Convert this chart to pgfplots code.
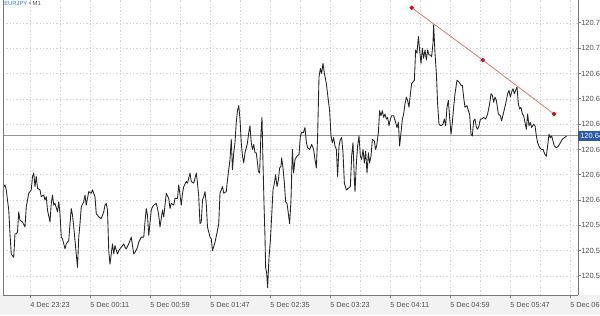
\documentclass[border=0pt]{standalone}
\usepackage{pgfplots}
\pgfplotsset{compat=1.18}
\usepackage{pgfplotstable}
\usepackage{fontspec}
\setmainfont{Liberation Sans}
\definecolor{gridc}{RGB}{212,212,212}
\definecolor{axisc}{RGB}{120,120,120}
\definecolor{labc}{RGB}{80,80,80}
\definecolor{bandc}{RGB}{242,242,242}
\definecolor{pricec}{RGB}{150,150,150}
\definecolor{bluec}{RGB}{40,92,170}
\definecolor{titleblue}{RGB}{60,125,215}
\definecolor{trendc}{RGB}{225,120,110}
\definecolor{dotc}{RGB}{200,20,20}

\pgfplotstableread{
t p
-22 120.612
-21 120.618
-20 120.619
-19 120.616
-17 120.604
-16 120.590
-15 120.578
-14 120.577
-13 120.576
-12 120.590
-11 120.590
-10 120.591
-9 120.603
-8 120.598
-6 120.597
-4 120.594
-3 120.606
-1 120.614
1 120.616
2 120.624
3 120.626
4 120.618
5 120.624
6 120.617
8 120.616
9 120.612
11 120.613
12 120.610
13 120.612
14 120.604
16 120.597
17 120.608
18 120.613
19 120.607
20 120.608
22 120.603
23 120.609
24 120.602
25 120.588
26 120.587
28 120.581
29 120.584
31 120.586
32 120.596
33 120.605
34 120.601
35 120.594
37 120.578
38 120.570
39 120.588
40 120.596
41 120.606
43 120.609
44 120.613
45 120.607
46 120.611
47 120.615
49 120.614
50 120.616
52 120.612
53 120.602
55 120.600
57 120.599
59 120.603
60 120.607
61 120.608
62 120.604
63 120.580
64 120.572
65 120.578
66 120.584
67 120.578
68 120.583
70 120.578
71 120.580
73 120.582
75 120.584
76 120.582
77 120.581
79 120.584
80 120.586
81 120.588
83 120.578
84 120.579
86 120.582
87 120.585
89 120.588
91 120.588
92 120.597
93 120.605
94 120.601
95 120.589
97 120.604
98 120.606
99 120.607
101 120.608
102 120.605
103 120.601
104 120.594
106 120.604
107 120.600
108 120.607
109 120.614
111 120.611
112 120.605
113 120.608
115 120.607
116 120.611
118 120.611
119 120.619
121 120.607
122 120.614
123 120.618
125 120.621
126 120.620
128 120.626
129 120.621
131 120.620
133 120.626
134 120.620
135 120.612
136 120.596
137 120.597
138 120.610
139 120.612
140 120.615
141 120.608
142 120.594
144 120.588
145 120.587
146 120.580
148 120.585
150 120.592
151 120.596
152 120.614
154 120.618
155 120.614
157 120.615
158 120.622
160 120.634
161 120.646
162 120.628
163 120.638
164 120.644
165 120.656
166 120.663
167 120.666
168 120.658
169 120.644
170 120.636
171 120.632
172 120.638
174 120.644
175 120.650
176 120.654
177 120.644
178 120.640
179 120.643
180 120.638
181 120.638
182 120.632
182.7 120.627
183.7 120.626
184.8 120.650
185.6 120.659
186.4 120.632
187.2 120.608
188.0 120.588
188.5 120.570
189.3 120.567
190.1 120.558
191.2 120.576
192.3 120.586
193.3 120.600
194.4 120.616
195.5 120.620
196.5 120.625
197.6 120.618
198.7 120.622
199.7 120.629
200.8 120.630
201.3 120.635
202.4 120.629
203.5 120.620
204.5 120.609
205.6 120.608
206.7 120.602
207.7 120.596
208.8 120.610
209.9 120.640
210.9 120.626
212.0 120.634
213.6 120.636
215.2 120.637
216.3 120.648
217.3 120.650
218.7 120.650
220.0 120.653
221.1 120.644
222.1 120.641
223.7 120.640
225.3 120.643
226.9 120.640
228.0 120.634
229.1 120.629
230.1 120.648
231.2 120.683
232.3 120.688
233.3 120.685
234.4 120.691
235.5 120.685
237.1 120.679
238.7 120.669
239.7 120.663
240.8 120.648
241.9 120.644
242.9 120.647
244.0 120.642
245.1 120.640
246.1 120.624
247.2 120.642
248.3 120.646
249.3 120.647
250.4 120.638
251.5 120.620
253.1 120.616
254.7 120.617
256.3 120.618
257.3 120.636
258.4 120.644
259.5 120.622
260.0 120.615
261.1 120.632
262.1 120.642
263.2 120.648
264.3 120.636
265.3 120.634
266.4 120.640
267.5 120.632
268.5 120.639
269.6 120.626
270.7 120.638
271.7 120.632
272.8 120.636
273.9 120.646
275.5 120.645
276.4 120.640
277.3 120.642
278.7 120.650
279.7 120.663
280.8 120.660
281.9 120.663
282.9 120.659
284.0 120.661
285.1 120.658
286.1 120.659
287.2 120.654
288.3 120.658
289.3 120.660
290.9 120.660
292.5 120.656
293.6 120.653
294.7 120.656
295.7 120.642
296.8 120.650
297.9 120.658
298.9 120.661
300.0 120.667
301.1 120.671
302.1 120.669
303.2 120.665
304.3 120.673
305.3 120.679
306.4 120.680
307.5 120.681
308.5 120.699
309.6 120.697
310.7 120.707
311.7 120.699
312.8 120.691
313.9 120.700
314.9 120.694
316.0 120.699
317.1 120.693
318.1 120.699
319.2 120.696
320.3 120.696
321.3 120.695
322.4 120.703
322.9 120.714
324.0 120.697
325.1 120.685
326.1 120.667
327.2 120.655
328.8 120.654
330.4 120.655
331.5 120.658
332.5 120.654
333.6 120.665
334.7 120.669
335.7 120.659
336.8 120.649
337.9 120.656
338.9 120.665
340.0 120.673
341.6 120.681
343.2 120.680
344.8 120.678
345.9 120.678
346.9 120.671
348.0 120.665
349.6 120.666
350.7 120.663
351.7 120.661
352.8 120.649
353.9 120.648
354.9 120.657
356.0 120.658
357.1 120.653
358.1 120.652
359.2 120.654
360.3 120.658
361.3 120.658
362.9 120.659
364.5 120.658
366.1 120.661
367.7 120.667
368.8 120.673
369.9 120.672
370.9 120.668
372.0 120.671
373.1 120.669
374.7 120.661
376.3 120.660
377.3 120.657
378.9 120.662
380.5 120.667
382.1 120.673
383.2 120.675
384.3 120.671
385.3 120.674
386.4 120.676
387.5 120.673
388.5 120.675
389.6 120.677
390.7 120.667
391.7 120.664
392.8 120.665
393.9 120.661
394.9 120.660
396.0 120.656
397.1 120.652
398.1 120.661
399.2 120.654
400.3 120.656
401.3 120.653
402.9 120.655
404.0 120.654
405.1 120.648
406.1 120.644
407.7 120.641
409.3 120.640
410.4 120.640
412.0 120.637
413.1 120.636
414.1 120.642
415.2 120.649
416.3 120.647
417.3 120.648
418.4 120.645
419.5 120.642
421.1 120.641
422.7 120.642
424.3 120.644
425.9 120.646
427.5 120.647
429.3 120.648
}\pricedata

\begin{document}
\begin{tikzpicture}
\clip (0pt,0pt) rectangle (450pt,236.25pt);
\fill[white] (0pt,0pt) rectangle (450pt,236.25pt);
\fill[bandc] (0pt,0pt) rectangle (450pt,15pt);
\begin{axis}[
  at={(2.25pt,15pt)}, anchor=south west,
  scale only axis, width=431.25pt, height=221.25pt,
  xmin=-21.6, xmax=438.4, ymin=120.5537, ymax=120.7286,
  axis x line=bottom, axis y line=right,
  axis line style={-, axisc, line width=0.75pt},
  xtick={0,48,96,144,192,240,288,336,384,432},
  xticklabels={4 Dec 23:23,5 Dec 00:11,5 Dec 00:59,5 Dec 01:47,5 Dec 02:35,5 Dec 03:23,5 Dec 04:11,5 Dec 04:59,5 Dec 05:47,5 Dec 06:35},
  minor xtick={24,72,120,168,216,264,312,360,408},
  ytick={120.565,120.580,120.595,120.610,120.625,120.640,120.655,120.670,120.685,120.700,120.715},
  yticklabels={120.565,120.580,120.595,120.610,120.625,120.640,120.655,120.670,120.685,120.700,120.715},
  grid=both,
  major grid style={gridc, line width=0.5pt, dash pattern=on 1pt off 1.5pt},
  minor grid style={gridc, line width=0.5pt, dash pattern=on 1pt off 1.5pt},
  tick align=outside, major tick length=2.25pt, minor tick length=0pt,
  tick style={axisc, line width=0.75pt},
  xticklabel style={anchor=north west, inner sep=0pt, yshift=-3pt, font=\fontsize{5.5}{6}\selectfont, text=labc},
  yticklabel style={anchor=west, inner sep=0pt, font=\fontsize{5.6}{6}\selectfont, text=labc},
  clip=true,
]
\addplot[pricec, line width=0.75pt, forget plot] coordinates {(-21.6,120.648) (438.4,120.648)};
\addplot[black!85, line width=0.65pt, line join=round, mark=none] table[x=t,y=p]{\pricedata};
\addplot[trendc, line width=0.6pt, mark=*, mark size=1.3pt, mark options={fill=dotc, draw=dotc}] coordinates {(305.4,120.724) (362.2,120.693) (419.2,120.661)};
\coordinate (cp) at (axis cs:438.4,120.648);
\end{axis}
\draw[axisc, line width=0.75pt] (2.25pt,15pt) -- (2.25pt,236.25pt);
\node[anchor=west, fill=bluec, text=white, inner xsep=1.5pt, inner ysep=0pt, minimum height=7.5pt, font=\fontsize{5.6}{6}\selectfont] at (cp) {120.648};
\node[anchor=west, inner sep=0pt, font=\fontsize{4.4}{5}\selectfont] at (3pt,233.25pt) {\textcolor{titleblue}{EURJPY} \textcolor{labc}{\textbullet\ M1}};
\end{tikzpicture}
\end{document}
